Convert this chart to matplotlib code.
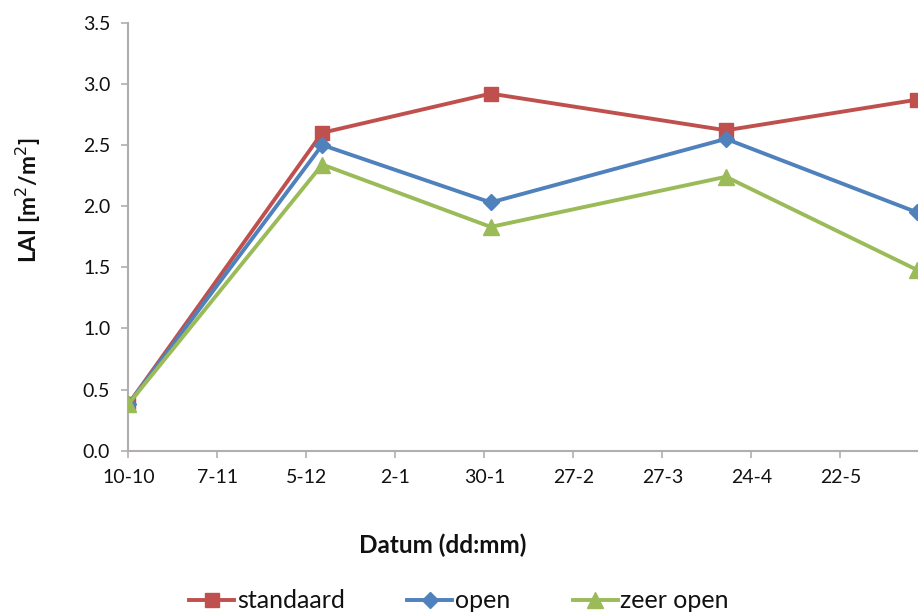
import matplotlib
matplotlib.use("Agg")
import matplotlib.pyplot as plt
from matplotlib.lines import Line2D
import datetime as dt

plt.rcParams['font.family'] = ['Lato', 'DejaVu Sans']

# Data
dates = ["2010-10-10", "2010-12-10", "2011-02-01", "2011-04-16", "2011-06-15"]
standaard = [0.38, 2.60, 2.92, 2.62, 2.87]
open_ = [0.38, 2.50, 2.03, 2.55, 1.95]
zeer_open = [0.38, 2.34, 1.83, 2.24, 1.48]
tick_dates = ["2010-10-10", "2010-11-07", "2010-12-05", "2011-01-02", "2011-01-30",
              "2011-02-27", "2011-03-27", "2011-04-24", "2011-05-22"]
tick_labels = ["10-10", "7-11", "5-12", "2-1", "30-1", "27-2", "27-3", "24-4", "22-5"]
x_range = ["2010-10-10", "2011-06-15"]
y_ticks = [0.0, 0.5, 1.0, 1.5, 2.0, 2.5, 3.0, 3.5]

to_dt = lambda s: dt.datetime.strptime(s, "%Y-%m-%d")
x = [to_dt(d) for d in dates]

RED = "#C0504D"
BLUE = "#4F81BD"
GREEN = "#9BBB59"
SPINE = "#B3AEAE"
TXT = "#111111"
LW = 2.8

fig = plt.figure(figsize=(9.24, 6.12), dpi=100)
ax = fig.add_axes([128.3/924, 1-450.7/612, (916.7-128.3)/924, (450.7-22.7)/612])

ax.plot(x, standaard, color=RED, lw=LW, marker='s', ms=10.5, label='standaard', zorder=3)
ax.plot(x, open_, color=BLUE, lw=LW, marker='D', ms=8.5, label='open', zorder=4)
ax.plot(x, zeer_open, color=GREEN, lw=LW, marker='^', ms=11, label='zeer open', zorder=5)

ax.set_xlim(to_dt(x_range[0]), to_dt(x_range[1]))
ax.set_ylim(0, 3.5)
ax.set_xticks([to_dt(d) for d in tick_dates])
ax.set_xticklabels(tick_labels)
ax.set_yticks(y_ticks)
ax.set_yticklabels([f"{v:.1f}" for v in y_ticks])

for s in ['top', 'right']:
    ax.spines[s].set_visible(False)
for s in ['left', 'bottom']:
    ax.spines[s].set_color(SPINE)
    ax.spines[s].set_linewidth(1.5)
ax.tick_params(axis='both', color=SPINE, width=1.2, length=5, labelsize=14, labelcolor=TXT)
ax.tick_params(axis='x', pad=8)
ax.tick_params(axis='y', pad=8)

fig.text(28/924, 1-200/612, "LAI [m$^2$/m$^2$]", rotation=90, ha='center', va='center',
         fontsize=16.5, fontweight='bold', color=TXT)
fig.text(443/924, 1-545/612, "Datum (dd:mm)", ha='center', va='center',
         fontsize=17.5, fontweight='bold', color=TXT)

handles = [Line2D([], [], color=RED, lw=LW, marker='s', ms=10.5),
           Line2D([], [], color=BLUE, lw=LW, marker='D', ms=8.5),
           Line2D([], [], color=GREEN, lw=LW, marker='^', ms=11)]
leg = fig.legend(handles, ['standaard', 'open', 'zeer open'], loc='center', ncol=3,
                 bbox_to_anchor=(459/924, 1-601/612), frameon=False, fontsize=18,
                 handlelength=1.8, handletextpad=0.1, columnspacing=2.5, borderaxespad=0)
for t in leg.get_texts():
    t.set_color(TXT)

fig.savefig("out.png", dpi=100)
